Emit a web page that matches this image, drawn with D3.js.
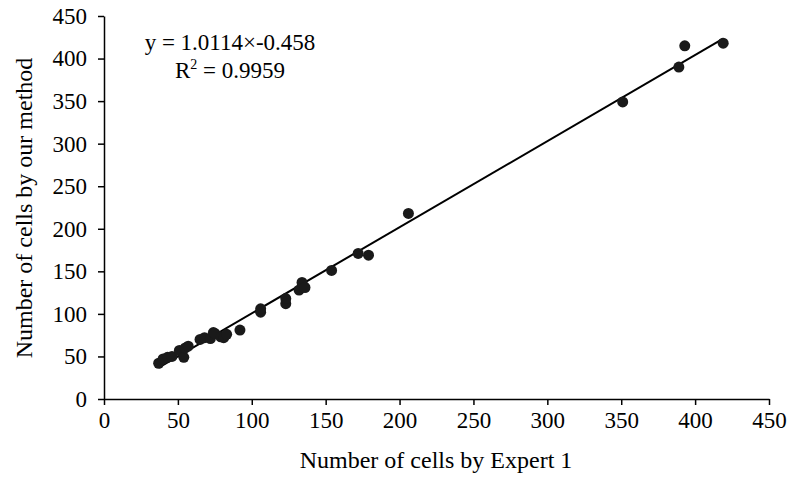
<!DOCTYPE html>
<html><head><meta charset="utf-8">
<script src="https://cdn.jsdelivr.net/npm/d3@7"></script>
<style>body{margin:0;background:#fff;} svg{display:block;font-family:"Liberation Serif","Times New Roman",serif;}</style>
</head><body>
<svg id="c" width="793" height="486"></svg>
<script>
const expert = [37,40,43,46,51,54,55,57,65,68,72,74,75,79,81,83,92,106,106,123,123,132,134,136,154,172,179,206,351,389,393,419];
const method = [42,47,49,50,57,49,60,62,70,72,71,78,77,73,72,76,81,102,106,112,118,128,137,131,151,171,169,218,349,390,415,418];
const xTicks = [0,50,100,150,200,250,300,350,400,450];
const yTicks = [0,50,100,150,200,250,300,350,400,450];
const slope = 1.0114, intercept = -0.458;
const eqText = "y = 1.0114×-0.458";
const r2Value = "0.9959";

const svg = d3.select("#c");
const L=104, R=769, T=16, B=399;
const x = d3.scaleLinear().domain([0,450]).range([L,R]);
const y = d3.scaleLinear().domain([0,450]).range([B,T]);

const xa = svg.append("g").attr("transform",`translate(0,${B})`)
  .call(d3.axisBottom(x).tickValues(xTicks).tickSize(6).tickSizeOuter(0).tickPadding(6));
const ya = svg.append("g").attr("transform",`translate(${L},0)`)
  .call(d3.axisLeft(y).tickValues(yTicks).tickSize(6).tickSizeOuter(0).tickPadding(11));
[xa,ya].forEach(a=>{
  a.selectAll("path,line").attr("stroke","#000").attr("stroke-width",1.5);
  a.selectAll("text").attr("font-family","Liberation Serif").attr("font-size",23).attr("fill","#000");
});
xa.selectAll("text").attr("dy","0.76em");

const xmin=d3.min(expert), xmax=d3.max(expert);
svg.append("line").attr("x1",x(xmin)).attr("y1",y(slope*xmin+intercept))
  .attr("x2",x(xmax)).attr("y2",y(slope*xmax+intercept))
  .attr("stroke","#000").attr("stroke-width",2);

svg.append("g").selectAll("circle").data(expert).join("circle")
  .attr("cx",d=>x(d)).attr("cy",(d,i)=>y(method[i])).attr("r",5.5).attr("fill","#1a1a1a");

svg.append("text").attr("x",230).attr("y",50).attr("text-anchor","middle")
  .attr("font-size",23).text(eqText);
const r2 = svg.append("text").attr("x",230).attr("y",78).attr("text-anchor","middle").attr("font-size",23);
r2.append("tspan").text("R");
r2.append("tspan").attr("font-size",14).attr("dy",-9).text("2");
r2.append("tspan").attr("dy",9).text(" = "+r2Value);

svg.append("text").attr("x",436).attr("y",468).attr("text-anchor","middle").attr("font-size",24)
  .text("Number of cells by Expert 1");
svg.append("text").attr("transform","translate(32,208) rotate(-90)").attr("text-anchor","middle").attr("font-size",24)
  .text("Number of cells by our method");
</script>
</body></html>
